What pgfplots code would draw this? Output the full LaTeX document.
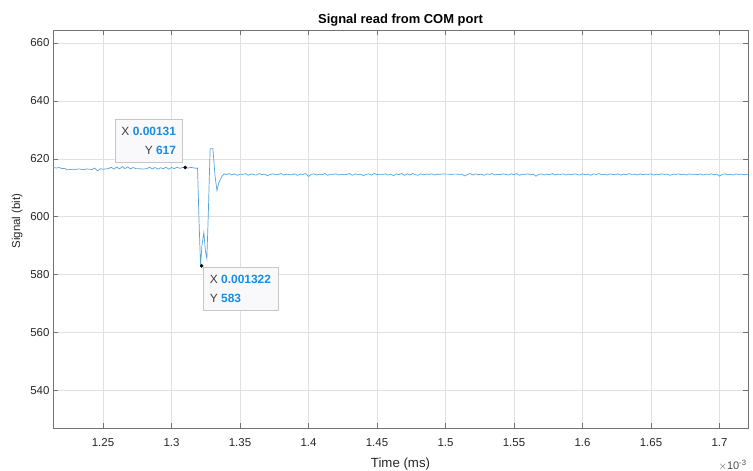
\documentclass[border=0pt]{standalone}
\usepackage{pgfplots}
\pgfplotsset{compat=1.18}
\usepackage{fontspec}
\setmainfont{Liberation Sans}
\definecolor{sig}{RGB}{85,163,222}
\definecolor{tipblue}{RGB}{25,140,230}
\definecolor{tipfill}{RGB}{249,249,252}
\begin{document}
\begin{tikzpicture}
\path[use as bounding box] (-53bp,-43bp) rectangle (700bp,428bp);
\begin{axis}[
  at={(0,0)}, anchor=south west, scale only axis,
  width=695bp, height=398bp,
  xmin=1.2135, xmax=1.7208, ymin=527, ymax=664.5,
  axis line style={black!55},
  tick style={black!55, line width=0.5pt},
  major tick length=5bp,
  tick align=inside,
  grid=major,
  major grid style={black!12, line width=0.5pt},
  xtick={1.25,1.3,1.35,1.4,1.45,1.5,1.55,1.6,1.65,1.7},
  xticklabels={1.25,1.3,1.35,1.4,1.45,1.5,1.55,1.6,1.65,1.7},
  ytick={540,560,580,600,620,640,660},
  /pgf/number format/assume math mode=true,
  ticklabel style={font=\fontsize{11.5}{12}\selectfont, text=black!85},
  xticklabel style={yshift=-7bp},
  title={\bfseries Signal read from COM port},
  title style={font=\fontsize{13}{15}\selectfont, yshift=-6bp},
  xlabel={Time (ms)}, ylabel={Signal (bit)},
  xlabel style={font=\fontsize{13.3}{15}\selectfont, text=black!85, yshift=-4bp},
  ylabel style={font=\fontsize{11.5}{12}\selectfont, text=black!85, at={(ticklabel cs:0.52)}, yshift=1bp},
  clip=true,
]
\addplot[sig, line width=0.7pt] coordinates {
(1.2135,617.0) (1.214,617.0) (1.216,616.8) (1.218,617.0) (1.220,616.6) (1.222,616.7) (1.224,616.2) (1.226,616.3)
(1.228,616.4) (1.230,616.3) (1.232,616.5) (1.234,616.4) (1.236,616.2) (1.238,616.5) (1.240,616.4) (1.242,616.3)
(1.244,616.8) (1.246,615.8) (1.248,616.6) (1.250,616.4) (1.252,616.5) (1.254,616.6) (1.256,617.1) (1.258,616.4)
(1.260,617.2) (1.262,616.5) (1.264,617.3) (1.266,616.6) (1.268,617.2) (1.270,616.5) (1.272,617.0) (1.274,616.6)
(1.276,616.6) (1.278,616.5) (1.280,616.5) (1.282,616.6) (1.284,617.1) (1.286,616.5) (1.288,617.0) (1.290,616.4)
(1.292,616.9) (1.294,616.6) (1.296,617.1) (1.298,616.4) (1.300,617.0) (1.302,616.6) (1.304,617.1) (1.306,616.7)
(1.308,617.0) (1.310,617.0) (1.312,616.8) (1.314,617.0) (1.316,616.9) (1.318,616.7)
(1.3190,616.8) (1.3200,600) (1.3212,583) (1.3222,590) (1.3236,594.5) (1.3248,588) (1.3258,585.5) (1.3268,600)
(1.3282,623.5) (1.3302,623.5) (1.3318,614) (1.3332,609) (1.3344,611.5) (1.3358,613) (1.3372,614.2) (1.3386,614.8)
(1.340,614.5) (1.342,614.9) (1.344,614.4) (1.346,614.8) (1.348,614.3) (1.350,614.7) (1.352,614.6) (1.354,614.9)
(1.356,614.3) (1.358,614.8) (1.360,614.5) (1.362,614.4) (1.364,614.9) (1.366,614.5) (1.368,614.7) (1.370,614.2)
(1.372,614.6) (1.374,614.8) (1.376,614.5) (1.378,614.6) (1.380,614.9) (1.382,614.4) (1.384,614.7) (1.386,614.5)
(1.388,614.5) (1.390,614.8) (1.392,614.3) (1.394,614.7) (1.396,614.6) (1.398,614.9) (1.400,613.9) (1.402,614.6)
(1.404,614.8) (1.406,614.4) (1.408,614.7) (1.410,614.5) (1.412,614.9) (1.414,614.3) (1.416,614.7) (1.418,614.6)
(1.420,614.8) (1.422,614.4) (1.424,614.7) (1.426,614.5) (1.428,614.6) (1.430,614.9) (1.432,614.3) (1.434,614.8)
(1.436,614.5) (1.438,614.7) (1.440,614.2) (1.442,614.6) (1.444,614.8) (1.446,614.4) (1.448,614.9) (1.450,614.5)
(1.452,614.7) (1.454,614.6) (1.456,614.8) (1.458,614.4) (1.460,614.7) (1.462,614.2) (1.464,614.8) (1.466,614.5)
(1.468,614.9) (1.470,614.3) (1.472,614.8) (1.474,614.4) (1.476,614.9) (1.478,614.5) (1.480,614.3) (1.482,614.8)
(1.484,614.5) (1.486,614.7) (1.488,614.6) (1.490,614.8) (1.492,614.4) (1.494,614.7) (1.496,614.6) (1.498,614.8)
(1.500,614.7) (1.502,614.7) (1.504,614.6) (1.506,614.7) (1.508,614.7) (1.510,614.6) (1.512,614.7) (1.514,614.1)
(1.516,614.6) (1.518,614.9) (1.520,614.4) (1.522,614.8) (1.524,614.5) (1.526,614.7) (1.528,614.3) (1.530,614.8)
(1.532,614.6) (1.534,614.9) (1.536,614.4) (1.538,614.7) (1.540,614.5) (1.542,614.8) (1.544,614.6) (1.546,614.4)
(1.548,614.8) (1.550,614.5) (1.552,614.9) (1.554,614.3) (1.556,614.7) (1.558,614.6) (1.560,614.8) (1.562,614.5)
(1.564,614.7) (1.566,614.0) (1.568,614.6) (1.570,614.8) (1.572,614.4) (1.574,614.7) (1.576,614.5) (1.578,614.9)
(1.580,614.4) (1.582,614.7) (1.584,614.6) (1.586,614.8) (1.588,614.4) (1.590,614.7) (1.592,614.5) (1.594,614.8)
(1.596,614.6) (1.598,614.4) (1.600,614.8) (1.602,614.5) (1.604,614.7) (1.606,614.3) (1.608,614.8) (1.610,614.6)
(1.612,614.9) (1.614,614.5) (1.616,614.7) (1.618,614.4) (1.620,614.8) (1.622,614.6) (1.624,614.5) (1.626,614.8)
(1.628,614.4) (1.630,614.7) (1.632,614.5) (1.634,614.9) (1.636,614.6) (1.638,614.7) (1.640,614.4) (1.642,614.8)
(1.644,614.5) (1.646,614.7) (1.648,614.6) (1.650,614.8) (1.652,614.4) (1.654,614.7) (1.656,614.5) (1.658,614.8)
(1.660,614.6) (1.662,614.7) (1.664,614.3) (1.666,614.7) (1.668,614.6) (1.670,614.8) (1.672,614.5) (1.674,614.7)
(1.676,614.4) (1.678,614.8) (1.680,614.6) (1.682,614.7) (1.684,614.5) (1.686,614.8) (1.688,614.4) (1.690,614.7)
(1.692,614.6) (1.694,614.8) (1.696,614.5) (1.698,614.7) (1.700,614.0) (1.702,614.6) (1.704,614.8) (1.706,614.5)
(1.708,614.7) (1.710,614.4) (1.712,614.8) (1.714,614.6) (1.716,614.7) (1.718,614.5) (1.720,614.7) (1.7208,614.6)
};
\addplot[only marks, mark=*, mark size=1.6pt, black] coordinates {(1.31,617) (1.322,583)};
\node[draw=black!22, fill=tipfill, anchor=south east, inner xsep=6bp, inner ysep=8bp, align=right,
      font=\fontsize{12}{19}\selectfont, text=black!75, xshift=-3bp, yshift=5bp]
  at (axis cs:1.31,617) {X \textcolor{tipblue}{\bfseries 0.00131}\\Y \textcolor{tipblue}{\bfseries 617}};
\node[draw=black!22, fill=tipfill, anchor=north west, inner xsep=7bp, inner ysep=8bp, align=left,
      font=\fontsize{12}{19}\selectfont, text=black!75, xshift=1bp, yshift=-1bp]
  at (axis cs:1.322,583) {X \textcolor{tipblue}{\bfseries 0.001322}\\Y \textcolor{tipblue}{\bfseries 583}};
\end{axis}
\node[anchor=west, font=\fontsize{11}{12}\selectfont, text=black!70] at (662bp,-37bp) {$\times$10\textsuperscript{-3}};
\end{tikzpicture}
\end{document}
